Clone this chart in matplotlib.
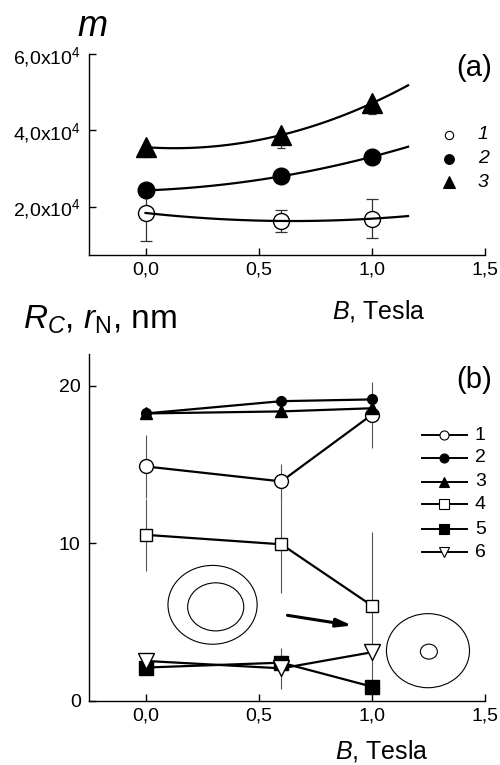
import numpy as np
import matplotlib
matplotlib.use("Agg")
import matplotlib.pyplot as plt
from matplotlib.patches import Ellipse

plt.rcParams['font.family'] = ['Liberation Sans', 'DejaVu Sans']
plt.rcParams['mathtext.fontset'] = 'custom'
plt.rcParams['mathtext.rm'] = 'Liberation Sans'
plt.rcParams['mathtext.it'] = 'Liberation Sans:italic'

# magnetic field, Tesla
B = [0.0, 0.6, 1.0]

# panel (a): m values and errors
m1 = [1.84e4, 1.63e4, 1.69e4]
m1_err = [0.74e4, 0.28e4, 0.51e4]
m2 = [2.43e4, 2.80e4, 3.31e4]
m3 = [3.56e4, 3.88e4, 4.71e4]
m3_err = [0.26e4, 0.35e4, 0.29e4]   # only the lower part shows below the triangles

# panel (b): radii in nm
r1 = [14.88, 13.93, 18.16]
r1_err = [2.0, 1.1, 2.1]
r2 = [18.24, 19.02, 19.13]
r3 = [18.24, 18.37, 18.57]
r4 = [10.54, 9.94, 6.05]
r4_err = [2.3, 3.1, 4.7]
r5 = [2.12, 2.43, 0.91]
r6 = [2.54, 2.07, 3.09]
r6_err = [0.5, 1.3, 0.0]

labels = ['1', '2', '3', '4', '5', '6']
xticks = [0.0, 0.5, 1.0, 1.5]
xticklabels = ["0,0", "0,5", "1,0", "1,5"]
yticks_a = [2e4, 4e4, 6e4]
yticklabels_a = [r"2,0x10$^4$", r"4,0x10$^4$", r"6,0x10$^4$"]
yticks_b = [0, 10, 20]

fig = plt.figure(figsize=(5, 7.65), dpi=100)
ax1 = fig.add_axes([0.178, 0.6667, 0.792, 0.2627])
ax2 = fig.add_axes([0.178, 0.0837, 0.792, 0.4533])

for ax in (ax1, ax2):
    ax.spines['top'].set_visible(False)
    ax.spines['right'].set_visible(False)
    ax.spines['left'].set_linewidth(1.0)
    ax.spines['bottom'].set_linewidth(1.0)
    ax.tick_params(direction='in', length=5, width=1.0, labelsize=14)
    ax.tick_params(axis='y', pad=6)
    ax.tick_params(axis='x', pad=5)
    ax.set_xlim(-0.25, 1.5)
    ax.set_xticks(xticks)
    ax.set_xticklabels(xticklabels)

# ---- panel (a)
xfit = np.linspace(0, 1.16, 100)
ax1.errorbar(B, m1, yerr=m1_err, fmt='none', ecolor='#333333', elinewidth=0.9, capsize=4, capthick=0.9, zorder=2)
ax1.errorbar(B, m3, yerr=[m3_err, [0, 0, 0]], fmt='none', ecolor='#333333', elinewidth=0.9,
             capsize=3, capthick=0.9, zorder=2)
ax1.plot(B, m1, 'o', ms=11.5, mfc='white', mec='black', mew=1.0, ls='none', zorder=3)
ax1.plot(B, m2, 'o', ms=12, color='black', ls='none', zorder=3)
ax1.plot(B, m3, '^', ms=14, color='black', ls='none', zorder=3)
for m in (m1, m2, m3):
    c = np.polyfit(B, m, 2)
    ax1.plot(xfit, np.polyval(c, xfit), color='black', lw=1.6, zorder=4)
ax1.set_ylim(7.4e3, 6e4)
ax1.set_yticks(yticks_a)
ax1.set_yticklabels(yticklabels_a)

# legend (a), markers only
leg_a = [('o', 6, 'white'), ('o', 7, 'black'), ('^', 8, 'black')]
for i, (mk, ms, fc) in enumerate(leg_a):
    yy = 0.597 - i * 0.117
    ax1.plot([0.909], [yy], marker=mk, ms=ms, mfc=fc, mec='black', mew=0.8, ls='none',
             transform=ax1.transAxes, clip_on=False)
    ax1.text(0.982, yy, labels[i], fontsize=14, style='italic', ha='left', va='center',
             transform=ax1.transAxes)

fig.text(0.948, 0.9105, "(a)", fontsize=21, ha='center', va='center')
fig.text(0.184, 0.953, "m", fontsize=26, style='italic', ha='center', va='baseline')
fig.text(0.664, 0.5843, r"$B$, Tesla", fontsize=18, ha='left', va='baseline')

# ---- panel (b)
eb = dict(fmt='none', ecolor='#555555', elinewidth=0.8, zorder=1)
ax2.errorbar(B, r1, yerr=r1_err, **eb)
ax2.errorbar(B, r4, yerr=r4_err, **eb)
ax2.errorbar(B, r6, yerr=r6_err, **eb)
line = dict(color='black', lw=1.6, mec='black', zorder=3)
ax2.plot(B, r1, marker='o', ms=10, mfc='white', mew=1.0, **line)
ax2.plot(B, r2, marker='o', ms=7, mfc='black', **line)
ax2.plot(B, r3, marker='^', ms=8, mfc='black', **line)
ax2.plot(B, r4, marker='s', ms=8, mfc='white', mew=1.0, **line)
ax2.plot(B, r5, marker='s', ms=10, mfc='black', **line)
ax2.plot(B, r6, marker='v', ms=11, mfc='white', mew=1.0, **line)
ax2.set_ylim(0, 22)
ax2.set_yticks(yticks_b)

# sketches of the ring and the nucleus
ax2.add_patch(Ellipse((0.296, 6.1), 0.394, 5.0, fill=False, lw=0.8))
ax2.add_patch(Ellipse((0.31, 5.97), 0.248, 3.05, fill=False, lw=0.8))
ax2.add_patch(Ellipse((1.248, 3.19), 0.367, 4.7, fill=False, lw=0.8))
ax2.add_patch(Ellipse((1.252, 3.13), 0.075, 0.95, fill=False, lw=0.8))
ax2.annotate("", xy=(0.925, 4.76), xytext=(0.615, 5.46),
             arrowprops=dict(arrowstyle='-|>,head_length=0.9,head_width=0.25', color='black', lw=2.2))

# legend (b), line-marker-line
leg_b = [('o', 'white'), ('o', 'black'), ('^', 'black'), ('s', 'white'), ('s', 'black'), ('v', 'white')]
leg_rows = [0.7666, 0.7012, 0.632, 0.5669, 0.4948, 0.4285]
for i, (mk, fc) in enumerate(leg_b):
    yy = leg_rows[i]
    ax2.plot([0.841, 0.8977, 0.9545], [yy, yy, yy], color='black', lw=1.4, marker=mk, markevery=[1],
             ms=6.5, mfc=fc, mec='black', mew=0.8, transform=ax2.transAxes, clip_on=False)
    ax2.text(0.9747, yy, labels[i], fontsize=14, ha='left', va='center', transform=ax2.transAxes)

fig.text(0.948, 0.503, "(b)", fontsize=21, ha='center', va='center')
fig.text(0.046, 0.571, r"$R_C$, $r_{\mathrm{N}}$, nm", fontsize=24, ha='left', va='baseline')
fig.text(0.67, 0.009, r"$B$, Tesla", fontsize=18, ha='left', va='baseline')

fig.savefig("out.png", dpi=100)
